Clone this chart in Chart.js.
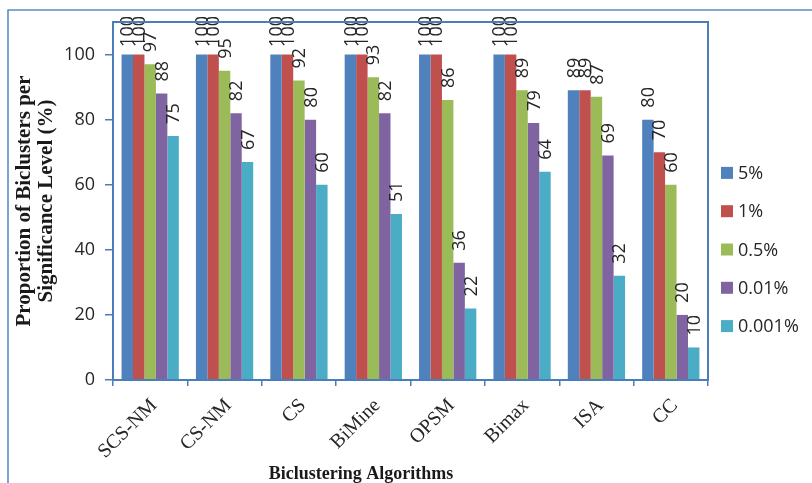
<!DOCTYPE html>
<html>
<head>
<meta charset="utf-8">
<script src="https://cdn.jsdelivr.net/npm/chart.js@4.4.1/dist/chart.umd.min.js"></script>
<style>
  html, body { margin: 0; padding: 0; background: #ffffff; }
  #wrap { width: 812px; height: 483px; position: relative; }
</style>
</head>
<body>
<div id="wrap"><canvas id="chart"></canvas></div>
<script>
// Categories and significance levels
const algorithms = ['SCS-NM', 'CS-NM', 'CS', 'BiMine', 'OPSM', 'Bimax', 'ISA', 'CC'];
const levelNames = ['5%', '1%', '0.5%', '0.01%', '0.001%'];

// Proportion of biclusters (%) at each significance level
const level5pct    = [100, 100, 100, 100, 100, 100, 89, 80];
const level1pct    = [100, 100, 100, 100, 100, 100, 89, 70];
const level05pct   = [97, 95, 92, 93, 86, 89, 87, 60];
const level001pct  = [88, 82, 80, 82, 36, 79, 69, 20];
const level0001pct = [75, 67, 60, 51, 22, 64, 32, 10];

const yTickValues = [0, 20, 40, 60, 80, 100];

const seriesValues = [level5pct, level1pct, level05pct, level001pct, level0001pct];
const seriesColors = ['#4F81BD', '#C0504D', '#9BBB59', '#8064A2', '#4BACC6'];

const axisBlue = '#4A7EBB';
const textColor = '#262626';
const sansFont = '"Open Sans", "DejaVu Sans", sans-serif';
const serifFont = '"Liberation Serif", "DejaVu Serif", serif';

// Outer frame lines and the box round the plot area
const framePlugin = {
  id: 'frame',
  beforeDraw(chart) {
    const ctx = chart.ctx;
    ctx.save();
    ctx.strokeStyle = '#5B8CC8';
    ctx.lineWidth = 1.6;
    ctx.beginPath();
    ctx.moveTo(8, chart.height);
    ctx.lineTo(8, 10);
    ctx.lineTo(chart.width, 10);
    ctx.stroke();
    ctx.restore();
  },
  afterDraw(chart) {
    const {ctx, chartArea: a} = chart;
    ctx.save();
    ctx.strokeStyle = axisBlue;
    ctx.lineWidth = 2;
    ctx.strokeRect(a.left, a.top, a.right - a.left, a.bottom - a.top);
    ctx.restore();
  }
};

// Vertical value labels above each bar, kept below the frame line
const barLabelPlugin = {
  id: 'barLabels',
  afterDatasetsDraw(chart) {
    const ctx = chart.ctx;
    ctx.save();
    ctx.font = '18px ' + sansFont;
    ctx.fillStyle = textColor;
    ctx.textAlign = 'left';
    ctx.textBaseline = 'middle';
    chart.data.datasets.forEach((ds, di) => {
      const meta = chart.getDatasetMeta(di);
      meta.data.forEach((bar, i) => {
        const text = String(ds.data[i]);
        const w = ctx.measureText(text).width;
        const start = Math.max(bar.y - 12, 16 + w);
        ctx.save();
        ctx.translate(bar.x + 1, start);
        ctx.rotate(-Math.PI / 2);
        ctx.fillText(text, 0, 0);
        ctx.restore();
      });
    });
    ctx.restore();
  }
};

// Legend column to the right of the plot area
const sideLegendPlugin = {
  id: 'sideLegend',
  afterDraw(chart) {
    const {ctx, chartArea: a} = chart;
    const rowStep = 38.3;
    const n = chart.data.datasets.length;
    const firstY = chart.height / 2 + 8 - rowStep * (n - 1) / 2;
    const boxX = a.right + 13;
    ctx.save();
    ctx.font = '18px ' + sansFont;
    ctx.textAlign = 'left';
    ctx.textBaseline = 'middle';
    chart.data.datasets.forEach((ds, i) => {
      const y = firstY + i * rowStep;
      ctx.fillStyle = ds.backgroundColor;
      ctx.fillRect(boxX, y - 6, 12, 12);
      ctx.fillStyle = textColor;
      ctx.fillText(ds.label, boxX + 17, y + 1);
    });
    ctx.restore();
  }
};

// Horizontal axis title
const xTitlePlugin = {
  id: 'xTitle',
  afterDraw(chart) {
    const {ctx, chartArea: a} = chart;
    ctx.save();
    ctx.font = 'bold 18px ' + serifFont;
    ctx.fillStyle = '#1a1a1a';
    ctx.textAlign = 'center';
    ctx.textBaseline = 'alphabetic';
    ctx.fillText('Biclustering Algorithms', a.left + 248, chart.height - 4);
    ctx.restore();
  }
};

function draw() {
  new Chart(document.getElementById('chart'), {
    type: 'bar',
    data: {
      labels: algorithms,
      datasets: levelNames.map((name, i) => ({
        label: name,
        data: seriesValues[i],
        backgroundColor: seriesColors[i],
        borderWidth: 0,
        barPercentage: 1.0,
        categoryPercentage: 0.77
      }))
    },
    options: {
      responsive: false,
      animation: false,
      devicePixelRatio: 1,
      layout: { padding: { left: 8, top: 22, right: 104, bottom: 0 } },
      plugins: {
        legend: { display: false },
        tooltip: { enabled: false }
      },
      scales: {
        x: {
          grid: {
            offset: true,
            drawOnChartArea: false,
            drawTicks: true,
            tickLength: 6,
            color: axisBlue,
            lineWidth: 1.5
          },
          border: { color: axisBlue, width: 2 },
          ticks: {
            minRotation: 45,
            maxRotation: 45,
            padding: 8,
            labelOffset: 4,
            color: textColor,
            font: { family: serifFont, size: 20 }
          },
          afterFit(scale) { scale.height = 103; }
        },
        y: {
          min: 0,
          max: 110,
          grid: {
            drawOnChartArea: false,
            drawTicks: true,
            tickLength: 8,
            color: axisBlue,
            lineWidth: 1.5
          },
          border: { color: axisBlue, width: 2 },
          ticks: {
            stepSize: 20,
            padding: 10,
            color: textColor,
            font: { family: sansFont, size: 18 }
          },
          afterBuildTicks(scale) {
            scale.ticks = yTickValues.map(v => ({ value: v }));
          },
          title: {
            display: true,
            text: ['Proportion of Biclusters per', 'Significance Level (%)'],
            color: '#1a1a1a',
            font: { family: serifFont, size: 21, weight: 'bold', lineHeight: 1.05 },
            padding: { top: 6, bottom: 0 }
          },
          afterFit(scale) { scale.width = 105; }
        }
      }
    },
    plugins: [framePlugin, barLabelPlugin, sideLegendPlugin, xTitlePlugin]
  });
}

const canvas = document.getElementById('chart');
canvas.width = 812;
canvas.height = 483;
Promise.all([
  document.fonts.load('18px "Open Sans"'),
  document.fonts.load('bold 18px "Liberation Serif"'),
  document.fonts.load('20px "Liberation Serif"')
]).then(draw, draw);
</script>
</body>
</html>
